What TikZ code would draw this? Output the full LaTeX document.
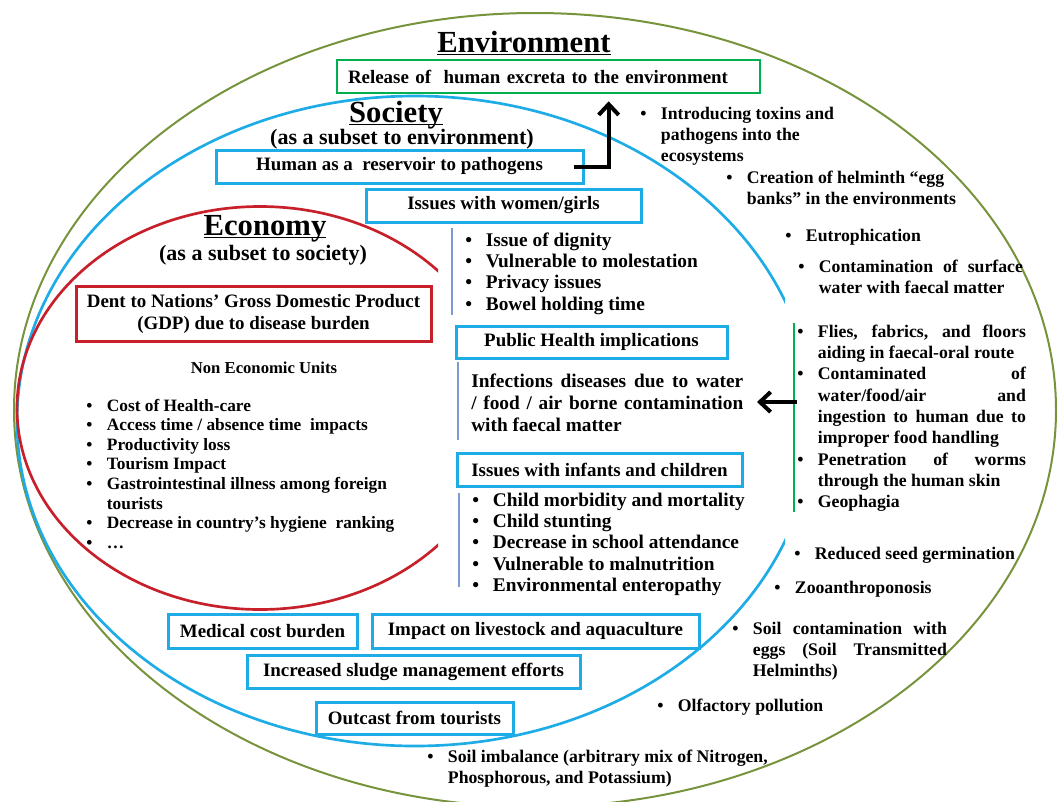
\documentclass[tikz,border=0pt]{standalone}
\usepackage{fontspec}
\setmainfont{Liberation Serif}
\usepackage{xcolor}
\usetikzlibrary{arrows.meta, calc}
\definecolor{envgreen}{RGB}{119,147,60}
\definecolor{boxgreen}{RGB}{0,176,80}
\definecolor{socblue}{RGB}{30,172,230}
\definecolor{ecored}{RGB}{200,32,42}
\definecolor{listblue}{RGB}{125,155,205}
\newcommand\fsz[2]{\fontsize{#1}{#2}\selectfont\bfseries}
\newcommand\jl[2]{\makebox[#1][s]{#2}}
\newcommand\ulttl[1]{\underline{\smash{#1}}}

\begin{document}
\begin{tikzpicture}[x=0.75pt, y=-0.75pt,
sbox/.style={draw=socblue, line width=2.25pt, inner sep=0pt, font=\fsz{14.2}{16.5}},
gbox/.style={draw=boxgreen, line width=2pt, inner sep=0pt, font=\fsz{14.2}{16.5}},
rbox/.style={draw=ecored, line width=2.25pt, inner sep=0pt, font=\fsz{14.2}{16.5}},
ttl/.style={anchor=base, inner sep=0pt, font=\fsz{23}{27}},
sub/.style={anchor=base, inner sep=0pt, font=\fsz{16.5}{20}},
list/.style={anchor=base west, inner sep=0pt, font=\fsz{14.5}{16}},
rlist/.style={anchor=base west, inner sep=0pt, font=\fsz{13.3}{16}},
lline/.style={listblue, line width=1.2pt},
gline/.style={boxgreen, line width=1.2pt},
barrow/.style={line width=3pt, -{Straight Barb[length=8pt, width=15pt]}}
]
\useasboundingbox (0,0) rectangle (1057,801);

\coordinate (cE) at (535,410);
\coordinate (cS) at (415,421);
\coordinate (cC) at (260,408);

\draw[envgreen, line width=1.5pt] (cE) ellipse [x radius=521, y radius=397];
\begin{scope}
\clip (0,0) rectangle (785,801);
\draw[socblue, line width=2pt] (cS) ellipse [x radius=398, y radius=325];
\end{scope}
\begin{scope}
\clip (0,0) rectangle (438,801);
\draw[ecored, line width=2pt] (cC) ellipse [x radius=243, y radius=201.5];
\end{scope}

% environment
\node[ttl] (env) at (524,52) {\ulttl{Environment}};
\node[gbox, text width=300.75pt, inner xsep=8.25pt, minimum height=24.75pt, align=left] (rel) at (548.5,76.5) {Release of~ human excreta to the environment};

% society
\node[ttl] (soc) at (396,122) {\ulttl{Society}};
\node[sub] (socsub) at (402,144) {(as a subset to environment)};
\node[sbox, minimum width=275.25pt, minimum height=24.75pt] (hum) at (399.5,166.5) {Human as a~ reservoir to pathogens};
\node[sbox, minimum width=206.25pt, minimum height=24.75pt] (wom) at (503.5,205.5) {Issues with women/girls};

\draw[lline] (452,228) -- (452,315);
\node[list] (womlist) at (465,246) {\begin{tabular}[t]{@{}p{15.5pt}@{}l@{}}
\textbullet & Issue of dignity\\
\textbullet & Vulnerable to molestation\\
\textbullet & Privacy issues\\
\textbullet & Bowel holding time
\end{tabular}};

\node[sbox, minimum width=203.25pt, minimum height=24pt] (pub) at (591.5,342) {Public Health implications};
\draw[lline] (458,362) -- (458,440);
\node[list, font=\fsz{14.5}{16.5}] (inf) at (471,387) {\begin{tabular}[t]{@{}l@{}}
\jl{204pt}{Infections diseases due to water}\\
\jl{204pt}{/ food / air borne contamination}\\
with faecal matter
\end{tabular}};

\node[sbox, minimum width=213.75pt, minimum height=24.75pt] (chi) at (599.5,469.5) {Issues with infants and children};
\draw[lline] (459,493) -- (459,587);
\node[list] (chilist) at (472,506) {\begin{tabular}[t]{@{}p{15.5pt}@{}l@{}}
\textbullet & Child morbidity and mortality\\
\textbullet & Child stunting\\
\textbullet & Decrease in school attendance\\
\textbullet & Vulnerable to malnutrition\\
\textbullet & Environmental enteropathy
\end{tabular}};

\node[sbox, minimum width=141.75pt, minimum height=25.5pt] (med) at (262.5,631) {Medical cost burden};
\node[sbox, minimum width=245.25pt, minimum height=25.5pt] (live) at (535.5,631) {Impact on livestock and aquaculture};
\node[sbox, minimum width=249.75pt, minimum height=24.75pt] (slu) at (413.5,671.5) {Increased sludge management efforts};
\node[sbox, minimum width=147.75pt, minimum height=24pt] (out) at (414.5,718) {Outcast from tourists};

% economy
\node[ttl] (eco) at (265,235) {\ulttl{Economy}};
\node[sub] (ecosub) at (263,260) {(as a subset to society)};
\node[rbox, minimum width=266.25pt, minimum height=41.25pt, align=center] (gdp) at (253.5,313.5) {Dent to Nations’ Gross Domestic Product\\(GDP) due to disease burden};
\node[anchor=base, inner sep=0pt, font=\fsz{12.5}{15}] (neu) at (264,373) {Non Economic Units};
\node[list, font=\fsz{13}{14.7}] (neulist) at (86,411) {\begin{tabular}[t]{@{}p{15.5pt}@{}l@{}}
\textbullet & Cost of Health-care\\
\textbullet & Access time / absence time~ impacts\\
\textbullet & Productivity loss\\
\textbullet & Tourism Impact\\
\textbullet & Gastrointestinal illness among foreign\\
 & tourists\\
\textbullet & Decrease in country’s hygiene~ ranking\\
\textbullet & …
\end{tabular}};

% environment effects
\node[rlist] (tox) at (640,119) {\begin{tabular}[t]{@{}p{15.5pt}@{}l@{}}
\textbullet & Introducing toxins and\\
 & pathogens into the\\
 & ecosystems
\end{tabular}};
\node[rlist] (egg) at (726,183) {\begin{tabular}[t]{@{}p{15.5pt}@{}l@{}}
\textbullet & Creation of helminth “egg\\
 & banks” in the environments
\end{tabular}};
\node[rlist] (eut) at (785,241) {\begin{tabular}[t]{@{}p{15.5pt}@{}l@{}}
\textbullet & Eutrophication
\end{tabular}};
\node[rlist] (sur) at (798,272) {\begin{tabular}[t]{@{}p{15.5pt}@{}l@{}}
\textbullet & \jl{153pt}{Contamination of surface}\\
 & water with faecal matter
\end{tabular}};

\draw[gline] (794,323) -- (794,512);
\node[rlist] (fly) at (797,337) {\begin{tabular}[t]{@{}p{15.5pt}@{}l@{}}
\textbullet & \jl{156pt}{Flies, fabrics, and floors}\\
 & aiding in faecal-oral route\\
\textbullet & \jl{156pt}{Contaminated of}\\
 & \jl{156pt}{water/food/air and}\\
 & \jl{156pt}{ingestion to human due to}\\
 & improper food handling\\
\textbullet & \jl{156pt}{Penetration of worms}\\
 & through the human skin\\
\textbullet & Geophagia
\end{tabular}};

\node[rlist] (see) at (794,559) {\begin{tabular}[t]{@{}p{15.5pt}@{}l@{}}
\textbullet & Reduced seed germination
\end{tabular}};
\node[rlist] (zoo) at (774,593) {\begin{tabular}[t]{@{}p{15.5pt}@{}l@{}}
\textbullet & Zooanthroponosis
\end{tabular}};
\node[rlist] (soil) at (732,634) {\begin{tabular}[t]{@{}p{15.5pt}@{}l@{}}
\textbullet & \jl{145.5pt}{Soil contamination with}\\
 & \jl{145.5pt}{eggs (Soil Transmitted}\\
 & Helminths)
\end{tabular}};
\node[rlist] (olf) at (657,711) {\begin{tabular}[t]{@{}p{15.5pt}@{}l@{}}
\textbullet & Olfactory pollution
\end{tabular}};
\node[rlist] (imb) at (427,762) {\begin{tabular}[t]{@{}p{15.5pt}@{}l@{}}
\textbullet & Soil imbalance (arbitrary mix of Nitrogen,\\
 & Phosphorous, and Potassium)
\end{tabular}};

% arrows
\coordinate (hA) at ($(hum.east)+(-11,0)$);
\coordinate (rB) at ($(rel.south west)+(273,7)$);
\draw[barrow] (hA) -| (rB);
\coordinate (fA) at (fly.west |- 0,402);
\coordinate (iB) at (757,402);
\draw[barrow] (fA) -- (iB);
\end{tikzpicture}
\end{document}
